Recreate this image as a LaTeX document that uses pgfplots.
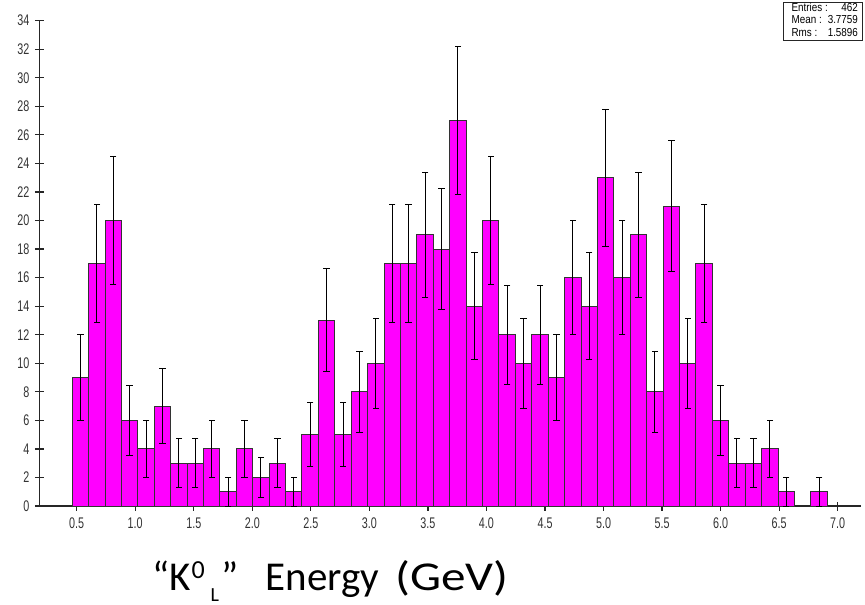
\documentclass[border=0pt]{standalone}
\usepackage{fontspec}
\setmainfont{Liberation Sans}
\newfontfamily\narrowfont[FakeStretch=0.7]{Liberation Sans}
\newfontfamily\boxfont[FakeStretch=0.85]{Liberation Sans}
\newfontfamily\labelfont{Carlito}
\usepackage{pgfplots}
\usepackage{pgfplotstable}
\usetikzlibrary{plotmarks}
\pgfplotsset{compat=1.18}
\definecolor{hist}{RGB}{255,0,255}

\pgfplotstableread{
x y e hi lo
0.5316 9 3 12 6
0.6718 17 4.1231 21.1231 12.8769
0.8120 20 4.4721 24.4721 15.5279
0.9522 6 2.4495 8.4495 3.5505
1.0924 4 2 6 2
1.2326 7 2.6458 9.6458 4.3542
1.3728 3 1.7321 4.7321 1.2679
1.5130 3 1.7321 4.7321 1.2679
1.6532 4 2 6 2
1.7934 1 1 2 0
1.9336 4 2 6 2
2.0738 2 1.4142 3.4142 0.5858
2.2140 3 1.7321 4.7321 1.2679
2.3542 1 1 2 0
2.4944 5 2.2361 7.2361 2.7639
2.6346 13 3.6056 16.6056 9.3944
2.7748 5 2.2361 7.2361 2.7639
2.9150 8 2.8284 10.8284 5.1716
3.0552 10 3.1623 13.1623 6.8377
3.1954 17 4.1231 21.1231 12.8769
3.3356 17 4.1231 21.1231 12.8769
3.4758 19 4.3589 23.3589 14.6411
3.6160 18 4.2426 22.2426 13.7574
3.7562 27 5.1962 32.1962 21.8038
3.8964 14 3.7417 17.7417 10.2583
4.0366 20 4.4721 24.4721 15.5279
4.1768 12 3.4641 15.4641 8.5359
4.3170 10 3.1623 13.1623 6.8377
4.4572 12 3.4641 15.4641 8.5359
4.5974 9 3 12 6
4.7376 16 4 20 12
4.8778 14 3.7417 17.7417 10.2583
5.0180 23 4.7958 27.7958 18.2042
5.1582 16 4 20 12
5.2984 19 4.3589 23.3589 14.6411
5.4386 8 2.8284 10.8284 5.1716
5.5788 21 4.5826 25.5826 16.4174
5.7190 10 3.1623 13.1623 6.8377
5.8592 17 4.1231 21.1231 12.8769
5.9994 6 2.4495 8.4495 3.5505
6.1396 3 1.7321 4.7321 1.2679
6.2798 3 1.7321 4.7321 1.2679
6.4200 4 2 6 2
6.5602 1 1 2 0
6.8406 1 1 2 0
}\histdata

\begin{document}
\begin{tikzpicture}
\useasboundingbox (-19.65pt,-49pt) rectangle (412.85pt,253pt);
\begin{axis}[
  scale only axis, width=410.85pt, height=242.65pt,
  xmin=0.1806, xmax=7.199, ymin=0, ymax=34,
  axis lines*=left,
  axis line style={black!85, line width=0.6pt},
  xtick={0.5,1.0,1.5,2.0,2.5,3.0,3.5,4.0,4.5,5.0,5.5,6.0,6.5,7.0},
  ytick={0,2,4,6,8,10,12,14,16,18,20,22,24,26,28,30,32,34},
  minor tick num=0,
  tick align=center, major tick length=4.5pt,
  every tick/.style={black!85, line width=0.6pt},
  ticklabel style={font=\narrowfont\fontsize{7.7}{9}\selectfont, text=black!80},
  yticklabel style={xshift=0.8pt},
  /pgf/number format/assume math mode=true,
  xticklabel style={/pgf/number format/.cd, fixed, fixed zerofill, precision=1},
  clip=false,
]
\addplot[ybar, bar width=0.1402, fill=hist, draw=black!80, line width=0.5pt,
  error bars/.cd, y dir=both, y explicit,
  error bar style={black, line width=0.5pt},
  error mark=none]
  table[x=x, y=y, y error=e] {\histdata};
\addplot[only marks, mark=-, mark size=1.6pt, mark options={black, line width=0.5pt}]
  table[x=x, y=hi] {\histdata};
\addplot[only marks, mark=-, mark size=1.6pt, mark options={black, line width=0.5pt}]
  table[x=x, y=lo] {\histdata};
\end{axis}
\node[draw=black!85, line width=0.4pt, anchor=north east, inner sep=0pt,
  minimum width=39.5pt, minimum height=19pt,
  font=\boxfont\fontsize{5.8}{6.25}\selectfont]
  at (411.85pt,252pt) {\begin{tabular*}{31.5pt}{@{}l@{\extracolsep{\fill}}r@{}}Entries : & 462\\ Mean : & 3.7759\\ Rms : & 1.5896\end{tabular*}};
\node[anchor=base west, inner sep=0pt, font=\labelfont\fontsize{20.5}{24}\selectfont] at (56.2pt,-42pt)
  {“K\kern0.5pt\raisebox{5.85pt}{\fontsize{13}{15}\selectfont 0}\kern3pt\raisebox{-5.9pt}{\fontsize{10}{12}\selectfont L}\kern1.3pt”\hspace{13.5pt}Energy\hspace{8pt}\scalebox{1.2}[1]{(GeV)}};
\end{tikzpicture}
\end{document}
